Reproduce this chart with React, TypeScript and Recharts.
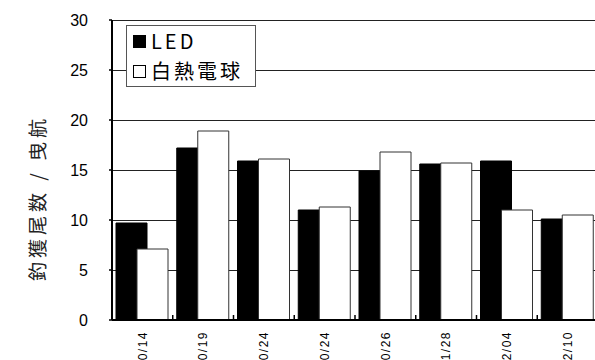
import { Bar, BarChart, CartesianGrid, Legend, XAxis, YAxis } from "recharts";

// 曳航日 (as printed under each group)
const dates = ["0/14", "0/19", "0/24", "0/24", "0/26", "1/28", "2/04", "2/10"];
// 釣獲尾数 / 曳航
const ledCatch = [9.7, 17.2, 15.9, 11.0, 14.9, 15.6, 15.9, 10.1];
const bulbCatch = [7.1, 18.9, 16.1, 11.3, 16.8, 15.7, 11.0, 10.5];
const yTicks = [0, 5, 10, 15, 20, 25, 30];

const data = dates.map((date, i) => ({
  date,
  led: ledCatch[i],
  bulb: bulbCatch[i],
}));

const jpFont = "'Noto Sans CJK JP', 'Noto Sans', sans-serif";
const numFont = "'Liberation Sans', Arial, sans-serif";

const LABEL_GAP = 11;
const EDGE_TICK = 5;

// rotated date label, plus the small inner tick on the right edge of each group
function DateTick({ x, y, payload, index, visibleTicksCount, width }: any) {
  const half = payload?.offset || width / visibleTicksCount / 2;
  const edgeX = x + half;
  const axisY = y - LABEL_GAP;
  return (
    <g>
      {index < visibleTicksCount - 1 && (
        <line x1={edgeX} x2={edgeX} y1={axisY} y2={axisY - EDGE_TICK} stroke="#000" strokeWidth={1.5} />
      )}
      <text
        x={x}
        y={y}
        transform={`rotate(-90 ${x} ${y})`}
        textAnchor="end"
        dy="0.36em"
        fontSize={12}
        fontFamily={numFont}
        letterSpacing={1.5}
        fill="#000"
      >
        {payload.value}
      </text>
    </g>
  );
}

function AxisTitle({ viewBox }: any) {
  const cx = viewBox.x + 38;
  const cy = viewBox.y + viewBox.height / 2 + 28;
  return (
    <text
      x={cx}
      y={cy}
      transform={`rotate(-90 ${cx} ${cy})`}
      textAnchor="middle"
      dy="0.36em"
      fontSize={19}
      fontFamily={jpFont}
      letterSpacing={4}
      fill="#222"
    >
      釣獲尾数 / 曳航
    </text>
  );
}

function LegendBox({ payload }: any) {
  return (
    <div
      style={{
        border: "1px solid #555",
        background: "#fff",
        width: 128,
        height: 60,
        fontFamily: jpFont,
        fontSize: 20,
        letterSpacing: 3,
        lineHeight: "30px",
        color: "#000",
      }}
    >
      {(payload ?? []).map((entry: any) => (
        <div key={entry.value} style={{ display: "flex", alignItems: "center", height: 30, paddingLeft: 6 }}>
          <span
            style={{
              display: "inline-block",
              width: 11,
              height: 11,
              background: entry.color,
              border: "1px solid #000",
              marginRight: 5,
            }}
          />
          <span>{entry.value}</span>
        </div>
      ))}
    </div>
  );
}

export default function App() {
  return (
    <div style={{ position: "absolute", left: 0, top: 0, width: 595, height: 360, overflow: "hidden", background: "#fff" }}>
      <BarChart
        width={600}
        height={360}
        data={data}
        margin={{ top: 20, right: 2, left: 0, bottom: 0 }}
        barSize={31}
        barGap={-10}
      >
        <CartesianGrid horizontal vertical={false} stroke="#222" strokeWidth={1} shapeRendering="crispEdges" />
        <XAxis
          dataKey="date"
          interval={0}
          height={40}
          tickLine={false}
          tickSize={0}
          tickMargin={LABEL_GAP}
          tick={<DateTick />}
          axisLine={{ stroke: "#000", strokeWidth: 2 }}
        />
        <YAxis
          width={112}
          domain={[0, 30]}
          ticks={yTicks}
          interval={0}
          tickSize={3}
          tickMargin={21}
          tick={{ fontSize: 16, fontFamily: numFont, fill: "#000" }}
          tickLine={{ stroke: "#000", strokeWidth: 1.5 }}
          axisLine={{ stroke: "#000", strokeWidth: 2 }}
          label={<AxisTitle />}
        />
        <Legend
          layout="vertical"
          align="center"
          verticalAlign="middle"
          wrapperStyle={{ left: 126, top: 25, width: "auto" }}
          content={<LegendBox />}
        />
        <Bar dataKey="led" name="LED" fill="#000" stroke="#000" strokeWidth={1} isAnimationActive={false} />
        <Bar dataKey="bulb" name="白熱電球" fill="#fff" stroke="#333" strokeWidth={1} isAnimationActive={false} />
      </BarChart>
    </div>
  );
}
